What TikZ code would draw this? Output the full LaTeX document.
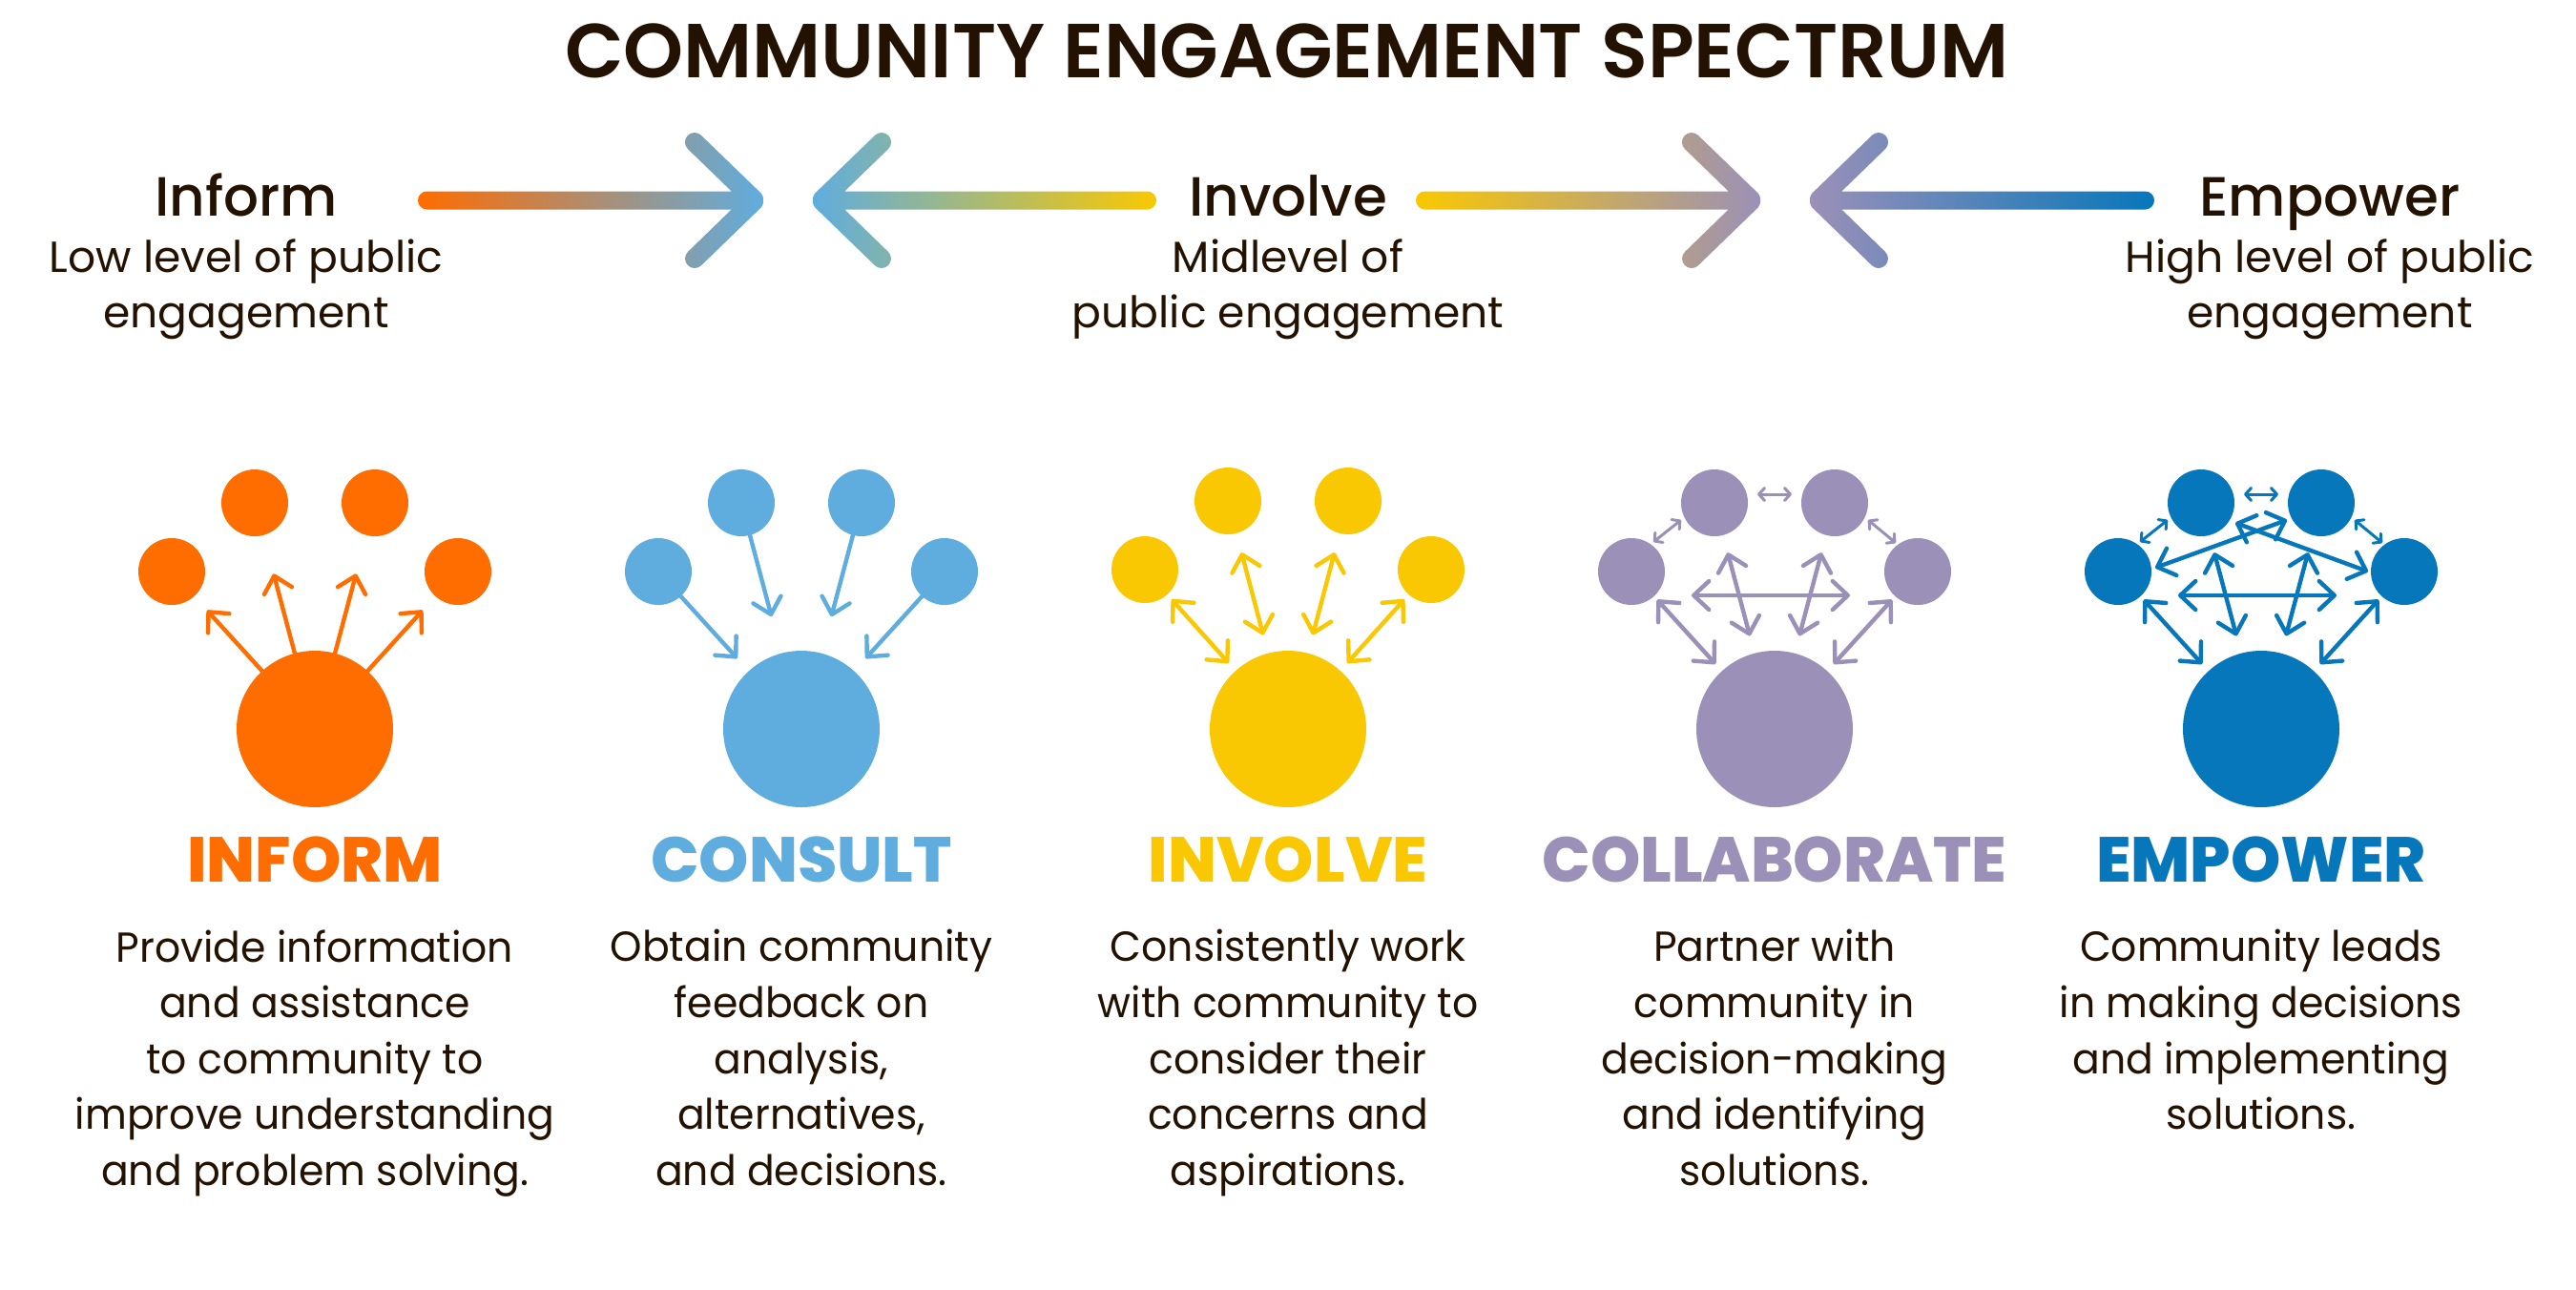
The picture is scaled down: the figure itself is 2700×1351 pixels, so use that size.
\documentclass[tikz,border=0pt]{standalone}
\usepackage{fontspec}
\usetikzlibrary{arrows.meta}
\setmainfont{Poppins}[FakeStretch=0.967]
\newfontfamily\subfont{Poppins}
\newfontfamily\midfont{Poppins Medium}
\newfontfamily\titlefont{Poppins SemiBold}
\newfontfamily\headfont{Poppins ExtraBold}
\definecolor{cOrange}{HTML}{FF6C00}
\definecolor{cBlue}{HTML}{5FADDE}
\definecolor{cYellow}{HTML}{F9C802}
\definecolor{cPurple}{HTML}{9B90B8}
\definecolor{cDeep}{HTML}{0677BB}
\definecolor{cInk}{HTML}{231201}
\tikzset{
  big/.style={circle,draw=none,fill=#1,minimum size=82pt,inner sep=0pt,outer sep=0pt},
  small/.style={circle,draw=none,fill=#1,minimum size=35pt,inner sep=0pt,outer sep=0pt},
  lk/.style={draw=#1,line width=2.2pt,line cap=round},
  head/.style={-{Straight Barb[round,length=8pt,width=15pt]}},
  both/.style={{Straight Barb[round,length=8pt,width=15pt]}-{Straight Barb[round,length=8pt,width=15pt]}},
  tiny/.style={draw=#1,line width=1.5pt,line cap=round,{Straight Barb[round,length=3pt,width=6.5pt]}-{Straight Barb[round,length=3pt,width=6.5pt]}},
  ttl/.style={text=cInk,inner sep=0pt,font=\titlefont\fontsize{40.1}{46}\selectfont},
  lvl/.style={text=cInk,inner sep=0pt,anchor=base,font=\midfont\fontsize{29}{32}\selectfont},
  sub/.style={text=cInk,inner sep=0pt,align=center,anchor=north,font=\subfont\fontsize{22.8}{29.3}\selectfont},
  hd/.style={text=#1,inner sep=0pt,font=\headfont\fontsize{33.3}{38}\selectfont},
  desc/.style={text=cInk,inner sep=0pt,align=center,anchor=north,font=\fontsize{22}{29.3}\selectfont},
}
% gradient arrow: #1 tip x, #2 shaft length, #3 mirror, #4 left colour, #5 right colour (on the page)
\newcommand\gradarrow[5]{%
  \begin{scope}[shift={(#1,210)},xscale=#3]
    \clip (-#2+9.5,-9.5) -- (-33.3,-9.5) -- (-79,-53.8)
      arc[start angle=134,end angle=314,radius=10] -- (-2,-7.2)
      .. controls (1,-3) and (1,3) .. (-2,7.2) -- (-65,68.2)
      arc[start angle=46,end angle=226,radius=10] -- (-33.3,9.5) -- (-#2+9.5,9.5)
      arc[start angle=90,end angle=270,radius=9.5] -- cycle;
    \shade[left color=#4,right color=#5] (-#2,-80) rectangle (0,80);
  \end{scope}}
% circles of one column
\newcommand\cluster[4]{%
  \begin{scope}[shift={(#2,764)}]
    \node[big=#3] (#1big) at (0,0) {};
    \node[small=#3] (#1a) at (-150,-165+#4) {};
    \node[small=#3] (#1b) at (-63,-237+#4) {};
    \node[small=#3] (#1c) at (63,-237+#4) {};
    \node[small=#3] (#1d) at (150,-165+#4) {};
  \end{scope}}
\begin{document}
\begin{tikzpicture}[x=0.5pt,y=-0.5pt]
\useasboundingbox (0,0) rectangle (2700,1351);
\node[ttl] (title) at (1349,53) {COMMUNITY ENGAGEMENT SPECTRUM};

\gradarrow{800}{362}{1}{cOrange}{cBlue}
\gradarrow{852}{360}{-1}{cBlue}{cYellow}
\gradarrow{1845}{361}{1}{cYellow}{cPurple}
\gradarrow{1897}{361}{-1}{cPurple}{cDeep}

\node[lvl] (lvlA) at (258,226) {Inform};
\node[lvl] (lvlB) at (1350,226) {Involve};
\node[lvl] (lvlC) at (2442,226) {Empower};
\node[sub] (subA) at (258,250) {Low level of public\\engagement};
\node[sub] (subB) at (1350,250) {Midlevel of\\public engagement};
\node[sub] (subC) at (2442,250) {High level of public\\engagement};

\cluster{I}{330}{cOrange}{0}
\cluster{C}{840}{cBlue}{0}
\cluster{V}{1350}{cYellow}{-2}
\cluster{L}{1860}{cPurple}{0}
\cluster{E}{2370}{cDeep}{0}

% Inform: big to small
\draw[lk=cOrange,head,shorten >=10pt] (Ibig) -- (Ia);
\draw[lk=cOrange,head,shorten >=21pt] (Ibig) -- (Ib);
\draw[lk=cOrange,head,shorten >=21pt] (Ibig) -- (Ic);
\draw[lk=cOrange,head,shorten >=10pt] (Ibig) -- (Id);
% Consult: small to big
\draw[lk=cBlue,head,shorten >=9pt] (Ca) -- (Cbig);
\draw[lk=cBlue,head,shorten >=20pt] (Cb) -- (Cbig);
\draw[lk=cBlue,head,shorten >=20pt] (Cc) -- (Cbig);
\draw[lk=cBlue,head,shorten >=9pt] (Cd) -- (Cbig);
% Involve: both ways
\draw[lk=cYellow,both,shorten <=3.5pt,shorten >=5.5pt] (Va) -- (Vbig);
\draw[lk=cYellow,both,shorten <=10.5pt,shorten >=10pt] (Vb) -- (Vbig);
\draw[lk=cYellow,both,shorten <=10.5pt,shorten >=10pt] (Vc) -- (Vbig);
\draw[lk=cYellow,both,shorten <=3.5pt,shorten >=5.5pt] (Vd) -- (Vbig);
% Collaborate
\draw[lk=cPurple,both,shorten <=2.5pt,shorten >=5pt] (La) -- (Lbig);
\draw[lk=cPurple,both,shorten <=9.5pt,shorten >=9.5pt] (Lb) -- (Lbig);
\draw[lk=cPurple,both,shorten <=9.5pt,shorten >=9.5pt] (Lc) -- (Lbig);
\draw[lk=cPurple,both,shorten <=2.5pt,shorten >=5pt] (Ld) -- (Lbig);
\begin{scope}[shift={(1860,764)}]
  \coordinate (Lh1) at (-87,-140); \coordinate (Lh2) at (79,-140);
  \coordinate (Lt1) at (-18,-246); \coordinate (Lt2) at (18,-246);
  \coordinate (Ll1) at (-127,-196); \coordinate (Ll2) at (-98,-219);
  \coordinate (Lr1) at (98,-219); \coordinate (Lr2) at (127,-195);
\end{scope}
\draw[lk=cPurple,both] (Lh1) -- (Lh2);
\draw[tiny=cPurple] (Lt1) -- (Lt2);
\draw[tiny=cPurple] (Ll1) -- (Ll2);
\draw[tiny=cPurple] (Lr1) -- (Lr2);
% Empower
\draw[lk=cDeep,both,shorten <=2.5pt,shorten >=5pt] (Ea) -- (Ebig);
\draw[lk=cDeep,both,shorten <=9.5pt,shorten >=9.5pt] (Eb) -- (Ebig);
\draw[lk=cDeep,both,shorten <=9.5pt,shorten >=9.5pt] (Ec) -- (Ebig);
\draw[lk=cDeep,both,shorten <=2.5pt,shorten >=5pt] (Ed) -- (Ebig);
\begin{scope}[shift={(2370,764)}]
  \coordinate (Eh1) at (-87,-140); \coordinate (Eh2) at (79,-140);
  \coordinate (Et1) at (-18,-246); \coordinate (Et2) at (18,-246);
  \coordinate (El1) at (-127,-196); \coordinate (El2) at (-98,-219);
  \coordinate (Er1) at (98,-219); \coordinate (Er2) at (127,-195);
  \coordinate (Em1) at (-111,-169); \coordinate (Em2) at (27,-219);
  \coordinate (En1) at (112,-165); \coordinate (En2) at (-27,-216);
\end{scope}
\draw[lk=cDeep,both] (Eh1) -- (Eh2);
\draw[lk=cDeep,both] (Em1) -- (Em2);
\draw[lk=cDeep,both] (En1) -- (En2);
\draw[tiny=cDeep] (Et1) -- (Et2);
\draw[tiny=cDeep] (El1) -- (El2);
\draw[tiny=cDeep] (Er1) -- (Er2);

% headings
\node[hd=cOrange] (hI) at (330,901) {INFORM};
\node[hd=cBlue] (hC) at (840,901) {CONSULT};
\node[hd=cYellow] (hV) at (1350,901) {INVOLVE};
\node[hd=cPurple] (hL) at (1860,901) {COLLABORATE};
\node[hd=cDeep] (hE) at (2370,901) {EMPOWER};
% descriptions
\node[desc] (dI) at (330,974) {Provide information\\and assistance\\to community to\\improve understanding\\and problem solving.};
\node[desc] (dC) at (840,974) {Obtain community\\feedback on\\analysis,\\alternatives,\\and decisions.};
\node[desc] (dV) at (1350,974) {Consistently work\\with community to\\consider their\\concerns and\\aspirations.};
\node[desc] (dL) at (1860,974) {Partner with\\community in\\decision-making\\and identifying\\solutions.};
\node[desc] (dE) at (2370,974) {Community leads\\in making decisions\\and implementing\\solutions.};
\end{tikzpicture}
\end{document}
